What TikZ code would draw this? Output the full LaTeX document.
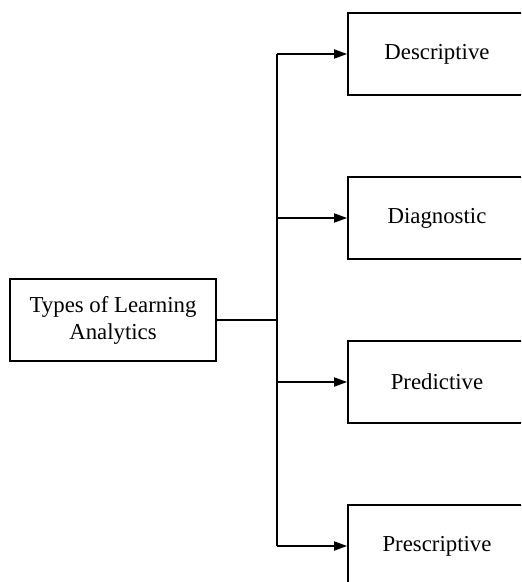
\documentclass[tikz,border=0pt]{standalone}
\usepackage{fontspec}
\setmainfont{Liberation Serif}
\usetikzlibrary{arrows.meta}
\begin{document}
\begin{tikzpicture}[
	x=0.5pt, y=-0.5pt,
	box/.style = {draw, line width=0.9pt, rectangle, minimum height=41pt, inner sep=0pt,
		align=center, font=\fontsize{11.4}{13.5}\selectfont},
	type/.style = {box, minimum width=89pt},
	edge/.style = {line width=0.9pt},
	arrow/.style = {edge, -{Triangle[length=6.5pt, width=4.5pt]}},
]

	%% The visible area (the type boxes run past its right edge)
	\useasboundingbox (0,0) rectangle (521,582);
	\clip (0,0) rectangle (521,582);

	%% The root box
	\node [box, minimum width=103pt] at (113,320) (root) {Types of Learning\\Analytics};

	%% Where the trunk meets the root line
	\coordinate (fork) at (277,320);

	%% The four types, one under the other
	\foreach [count=\n] \lbl in {Descriptive, Diagnostic, Predictive, Prescriptive}{%
		\pgfmathsetmacro\yPos{54+(\n-1)*164}
		\node [type] at (437,\yPos) (t-\n) {\lbl};
	}

	%% Draw the connections
	\draw [edge] (root.east) -- (fork);
	\draw [edge] (fork |- t-1) -- (fork |- t-4);
	\foreach \n in {1,...,4}{%
		\draw [arrow] (fork |- t-\n) -- (t-\n.west);
	}

\end{tikzpicture}
\end{document}
